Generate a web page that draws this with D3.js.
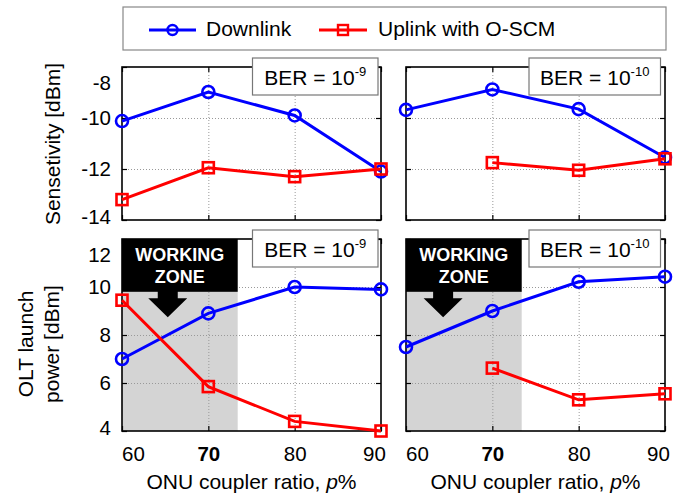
<!DOCTYPE html>
<html>
<head>
<meta charset="utf-8">
<script src="https://cdn.jsdelivr.net/npm/d3@7"></script>
<style>
  body { margin: 0; background: #fff; }
  svg { font-family: Arial, "Liberation Sans", sans-serif; }
  .grid line { stroke: #999; stroke-dasharray: 1,2; }
  .grid path { display: none; }
  .ax path { display: none; }
  .ax line { stroke: #000; stroke-width: 1.2; }
  .ax text { font-size: 20.5px; fill: #000; font-family: Arial, "Liberation Sans", sans-serif; }
</style>
</head>
<body>
<svg id="svg" width="684" height="496"></svg>
<script>
var ratio = [60, 70, 80, 90];
var xTicks = [60, 70, 80, 90];
var sensTicks = [-14, -12, -10, -8];
var powTicks = [4, 6, 8, 10, 12];

// sensitivity [dBm]
var sensDown9 = [-10.12, -8.98, -9.9, -12.1];
var sensUp9 = [-13.2, -11.95, -12.3, -12.0];
var sensDown10 = [-9.68, -8.88, -9.65, -11.55];
var sensUp10 = [null, -11.75, -12.05, -11.6];

// OLT launch power [dBm]
var powDown9 = [7.0, 8.9, 10.0, 9.9];
var powUp9 = [9.45, 5.85, 4.4, 4.0];
var powDown10 = [7.5, 9.0, 10.22, 10.43];
var powUp10 = [null, 6.62, 5.3, 5.55];

var zoneEnd = 73.4, zoneBoxBottom = 9.8;

var svg = d3.select("#svg");
var blue = "#0000ff", red = "#ff0000";

var colX = [[122, 381], [406, 665]];
var rowY = [[220, 67], [431, 239]];

// plain hyphen for negatives, like the original
var fmt = function(d) { return String(d); };

function makePanel(col, row, down, up, ber, yDomain, yTicks, arrowX) {
    var x = d3.scaleLinear().domain([60, 90]).range(colX[col]);
    var y = d3.scaleLinear().domain(yDomain).range(rowY[row]);
    var x0 = colX[col][0], x1 = colX[col][1];
    var yb = rowY[row][0], yt = rowY[row][1];
    var g = svg.append("g");

    // working zone
    if (row == 1) {
        g.append("rect")
            .attr("x", x(60)).attr("y", yt)
            .attr("width", x(zoneEnd) - x(60)).attr("height", yb - yt)
            .attr("fill", "#d4d4d4");
    }

    // grid
    g.append("g").attr("class", "grid")
        .attr("transform", "translate(0," + yb + ")")
        .call(d3.axisBottom(x).tickValues([70, 80]).tickSize(-(yb - yt)).tickFormat(""));
    g.append("g").attr("class", "grid")
        .attr("transform", "translate(" + x0 + ",0)")
        .call(d3.axisLeft(y).tickValues(yTicks.slice(1, -1)).tickSize(-(x1 - x0)).tickFormat(""));

    if (row == 1) {
        var bx = x(60), bw = x(zoneEnd) - x(60);
        g.append("rect")
            .attr("x", bx).attr("y", yt)
            .attr("width", bw).attr("height", y(zoneBoxBottom) - yt)
            .attr("fill", "#000");
        g.append("text").attr("x", bx + bw / 2).attr("y", yt + 21.5)
            .attr("text-anchor", "middle").attr("fill", "#fff")
            .style("font-size", "18px").style("font-weight", "bold").text("WORKING");
        g.append("text").attr("x", bx + bw / 2).attr("y", yt + 43.5)
            .attr("text-anchor", "middle").attr("fill", "#fff")
            .style("font-size", "18px").style("font-weight", "bold").text("ZONE");
        var ax = x(arrowX), ay = y(zoneBoxBottom);
        g.append("path")
            .attr("d", "M" + (ax - 10) + "," + (ay - 1) + "L" + (ax + 10) + "," + (ay - 1) +
                "L" + (ax + 10) + "," + (ay + 6.5) + "L" + (ax + 19.5) + "," + (ay + 6.5) +
                "L" + ax + "," + (ay + 25.5) + "L" + (ax - 19.5) + "," + (ay + 6.5) +
                "L" + (ax - 10) + "," + (ay + 6.5) + "Z")
            .attr("fill", "#000");
    }

    // inner ticks on all four sides
    var bot = g.append("g").attr("class", "ax").attr("transform", "translate(0," + yb + ")")
        .call(d3.axisBottom(x).tickValues(xTicks).tickSize(-5).tickPadding(15).tickFormat(fmt));
    g.append("g").attr("class", "ax").attr("transform", "translate(0," + yt + ")")
        .call(d3.axisTop(x).tickValues(xTicks).tickSize(-5).tickFormat(""));
    var left = g.append("g").attr("class", "ax").attr("transform", "translate(" + x0 + ",0)")
        .call(d3.axisLeft(y).tickValues(yTicks).tickSize(-5).tickPadding(11).tickFormat(fmt));
    g.append("g").attr("class", "ax").attr("transform", "translate(" + x1 + ",0)")
        .call(d3.axisRight(y).tickValues(yTicks).tickSize(-5).tickFormat(""));

    if (row == 0) {
        bot.selectAll("text").remove();
    } else {
        bot.selectAll("text")
            .attr("dx", function(d) { return d == 60 ? 11 : (d == 90 ? -7 : 0); })
            .style("font-weight", function(d) { return d == 70 ? "bold" : "normal"; });
        var title = g.append("text")
            .attr("x", (x0 + x1) / 2).attr("y", 489)
            .attr("text-anchor", "middle").style("font-size", "21px");
        title.append("tspan").text("ONU coupler ratio, ");
        title.append("tspan").style("font-style", "italic").text("p");
        title.append("tspan").text("%");
    }
    if (col == 1) {
        left.selectAll("text").remove();
    } else {
        var lo = yTicks[0], hi = yTicks[yTicks.length - 1];
        left.selectAll("text")
            .attr("dy", function(d) { return d == hi ? "1.1em" : (d == lo ? "0.15em" : "0.32em"); });
    }

    // frame
    g.append("rect")
        .attr("x", x0).attr("y", yt).attr("width", x1 - x0).attr("height", yb - yt)
        .attr("fill", "none").attr("stroke", "#000").attr("stroke-width", 1.6);

    // series
    var line = d3.line()
        .defined(function(d) { return d[1] != null; })
        .x(function(d) { return x(d[0]); })
        .y(function(d) { return y(d[1]); });
    var dPts = ratio.map(function(r, i) { return [r, down[i]]; });
    var uPts = ratio.map(function(r, i) { return [r, up[i]]; });

    g.append("path").datum(dPts).attr("d", line)
        .attr("fill", "none").attr("stroke", blue).attr("stroke-width", 3);
    g.selectAll(".dm").data(dPts.filter(function(d) { return d[1] != null; })).enter()
        .append("circle")
        .attr("cx", function(d) { return x(d[0]); })
        .attr("cy", function(d) { return y(d[1]); })
        .attr("r", 6).attr("fill", "none").attr("stroke", blue).attr("stroke-width", 2.6);

    g.append("path").datum(uPts).attr("d", line)
        .attr("fill", "none").attr("stroke", red).attr("stroke-width", 3);
    g.selectAll(".um").data(uPts.filter(function(d) { return d[1] != null; })).enter()
        .append("rect")
        .attr("x", function(d) { return x(d[0]) - 5.5; })
        .attr("y", function(d) { return y(d[1]) - 5.5; })
        .attr("width", 11).attr("height", 11)
        .attr("fill", "none").attr("stroke", red).attr("stroke-width", 2.6);

    // BER box
    var bxl = col == 0 ? 252.5 : 529, bxr = col == 0 ? 378 : 660.5;
    var byt = row == 0 ? 58 : 230;
    g.append("rect")
        .attr("x", bxl).attr("y", byt).attr("width", bxr - bxl).attr("height", 37)
        .attr("fill", "#fff").attr("stroke", "#777").attr("stroke-width", 1.2);
    var bt = g.append("text").attr("x", (bxl + bxr) / 2).attr("y", byt + 27)
        .attr("text-anchor", "middle").style("font-size", "21px");
    bt.append("tspan").text("BER = 10");
    bt.append("tspan").attr("dy", -9).style("font-size", "13px").text(ber);
}

makePanel(0, 0, sensDown9, sensUp9, "-9", [-14, -8], sensTicks, 0);
makePanel(1, 0, sensDown10, sensUp10, "-10", [-14, -8], sensTicks, 0);
makePanel(0, 1, powDown9, powUp9, "-9", [4, 12], powTicks, 65.3);
makePanel(1, 1, powDown10, powUp10, "-10", [4, 12], powTicks, 64.3);

// y titles
svg.append("text").attr("transform", "translate(60,144) rotate(-90)")
    .attr("text-anchor", "middle").style("font-size", "21px").text("Sensetivity [dBm]");
svg.append("text").attr("transform", "translate(33,344) rotate(-90)")
    .attr("text-anchor", "middle").style("font-size", "21px").text("OLT launch");
svg.append("text").attr("transform", "translate(59,344) rotate(-90)")
    .attr("text-anchor", "middle").style("font-size", "21px").text("power [dBm]");

// legend
var leg = svg.append("g");
leg.append("rect").attr("x", 123).attr("y", 7).attr("width", 543).attr("height", 43)
    .attr("fill", "#fff").attr("stroke", "#888").attr("stroke-width", 1.2);
leg.append("line").attr("x1", 149).attr("x2", 196).attr("y1", 30).attr("y2", 30)
    .attr("stroke", blue).attr("stroke-width", 3);
leg.append("circle").attr("cx", 172.5).attr("cy", 30).attr("r", 5)
    .attr("fill", "none").attr("stroke", blue).attr("stroke-width", 2.4);
leg.append("text").attr("x", 206).attr("y", 36).style("font-size", "21px").text("Downlink");
leg.append("line").attr("x1", 319).attr("x2", 367).attr("y1", 30).attr("y2", 30)
    .attr("stroke", red).attr("stroke-width", 3);
leg.append("rect").attr("x", 338).attr("y", 25).attr("width", 10).attr("height", 10)
    .attr("fill", "none").attr("stroke", red).attr("stroke-width", 2.4);
leg.append("text").attr("x", 378).attr("y", 36).style("font-size", "21px").text("Uplink with O-SCM");
</script>
</body>
</html>
